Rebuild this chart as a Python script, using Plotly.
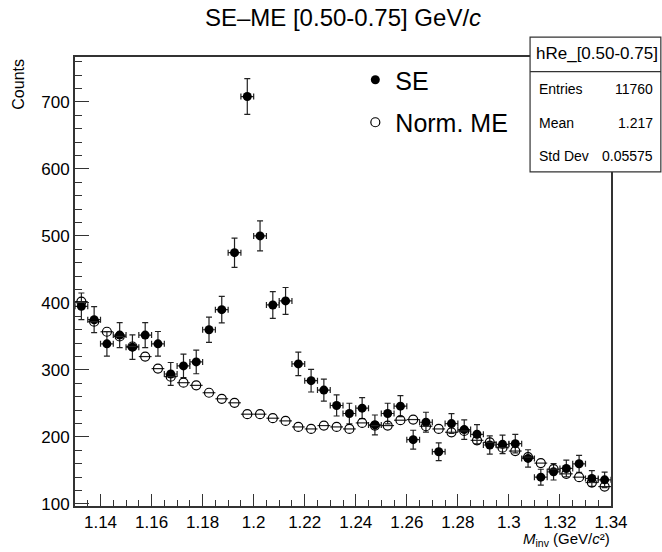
import numpy as np
import plotly.graph_objects as go

# bin centres (bin width 0.005)
x_centers = [1.1325, 1.1375, 1.1425, 1.1475, 1.1525, 1.1575, 1.1625, 1.1675, 1.1725, 1.1775,
             1.1825, 1.1875, 1.1925, 1.1975, 1.2025, 1.2075, 1.2125, 1.2175, 1.2225, 1.2275,
             1.2325, 1.2375, 1.2425, 1.2475, 1.2525, 1.2575, 1.2625, 1.2675, 1.2725, 1.2775,
             1.2825, 1.2875, 1.2925, 1.2975, 1.3025, 1.3075, 1.3125, 1.3175, 1.3225, 1.3275,
             1.3325, 1.3375]
half_width = 0.0025

se_counts = [395, 375, 339, 352, 334, 352, 339, 294, 306, 312,
             360, 390, 475, 708, 500, 397, 403, 309, 284, 270,
             247, 235, 243, 218, 235, 246, 196, 222, 178, 220,
             211, 204, 188, 189, 190, 168, 140, 148, 153, 160,
             138, 136]

me_counts = [402, 372, 357, 350, 335, 320, 302, 290, 281, 277,
             266, 257, 251, 234, 234, 228, 224, 215, 212, 217,
             215, 212, 221, 217, 217, 225, 226, 216, 212, 207,
             209, 195, 192, 184, 179, 170, 161, 152, 145, 140,
             132, 126]

x_tickvals = [1.14, 1.16, 1.18, 1.20, 1.22, 1.24, 1.26, 1.28, 1.30, 1.32, 1.34]
x_ticktext = ["1.14", "1.16", "1.18", "1.2", "1.22", "1.24", "1.26", "1.28", "1.3", "1.32", "1.34"]
y_tickvals = [100, 200, 300, 400, 500, 600, 700]

stats_name = "hRe_[0.50-0.75]"
stats_rows = [("Entries", "11760"), ("Mean", "1.217"), ("Std Dev", "0.05575")]

FONT = "Liberation Sans, Arial, Helvetica, sans-serif"
FRAME = "#333333"

se_err = np.sqrt(np.array(se_counts, dtype=float))

fig = go.Figure()
fig.add_trace(go.Scatter(
    x=x_centers, y=se_counts, mode="markers", name="SE", legendgroup="a",
    marker=dict(symbol="circle", size=9, color="black"),
    error_y=dict(type="data", array=se_err, color="#222222", thickness=1.2, width=3),
    error_x=dict(type="data", array=[half_width] * len(x_centers), color="#222222", thickness=1.2, width=3),
))
fig.add_trace(go.Scatter(
    x=x_centers, y=me_counts, mode="markers", name="Norm. ME", legendgroup="b",
    marker=dict(symbol="circle-open", size=9, color="black", line=dict(width=1.2, color="black")),
    error_x=dict(type="data", array=[half_width] * len(x_centers), color="#222222", thickness=1.2, width=0),
))

# stats box geometry (paper coords)
bx0, bx1, by0, by1, bsep = 0.849, 1.093, 0.744, 1.0444, 0.9673
shapes = [
    dict(type="rect", xref="paper", yref="paper", x0=bx0, x1=bx1, y0=by0, y1=by1,
         line=dict(color=FRAME, width=1.2), fillcolor="white", layer="above"),
    dict(type="line", xref="paper", yref="paper", x0=bx0, x1=bx1, y0=bsep, y1=bsep,
         line=dict(color=FRAME, width=1.2), layer="above"),
]
annotations = [
    dict(text=stats_name, xref="paper", yref="paper", x=0.856, y=1.008, xanchor="left",
         yanchor="middle", showarrow=False, font=dict(size=17, color="black", family=FONT)),
    dict(text="Counts", xref="paper", yref="paper", x=-0.106, y=1.0, xanchor="center",
         yanchor="top", textangle=-90, showarrow=False, font=dict(size=16, color="black", family=FONT)),
    dict(text="<i>M</i><sub>inv</sub> (GeV/<i>c</i>\u00b2)", xref="paper", yref="paper",
         x=1.0, y=-0.098, xanchor="right", yanchor="bottom", showarrow=False, borderpad=0,
         font=dict(size=15, color="black", family=FONT)),
]
row_y = [0.929, 0.853, 0.780]
for (lab, val), yy in zip(stats_rows, row_y):
    annotations.append(dict(text=lab, xref="paper", yref="paper", x=0.862, y=yy, xanchor="left",
                            yanchor="middle", showarrow=False, font=dict(size=14, color="black", family=FONT)))
    annotations.append(dict(text=val, xref="paper", yref="paper", x=1.082, y=yy, xanchor="right",
                            yanchor="middle", showarrow=False, font=dict(size=14, color="black", family=FONT)))

fig.update_layout(
    width=662, height=552,
    margin=dict(l=75, r=51, t=57, b=46),
    paper_bgcolor="white", plot_bgcolor="white",
    font=dict(family=FONT, color="black", size=17),
    title=dict(text="SE\u2013ME [0.50-0.75] GeV/<i>c</i>", x=0.5, xanchor="center", xref="paper",
               y=0.969, yanchor="middle", font=dict(size=24, family=FONT, color="black")),
    showlegend=True,
    legend=dict(x=0.523, y=1.0, xanchor="left", yanchor="top", bgcolor="rgba(0,0,0,0)",
                font=dict(size=25, family=FONT, color="black"), tracegroupgap=7,
                traceorder="grouped", itemsizing="trace"),
    shapes=shapes, annotations=annotations,
    xaxis=dict(range=[1.13, 1.34], showgrid=False, zeroline=False, showline=True, linecolor=FRAME,
               linewidth=2, mirror=True, ticks="inside", ticklen=12, tickcolor=FRAME, tickwidth=1.2,
               tickvals=x_tickvals, ticktext=x_ticktext, tickfont=dict(size=17, family=FONT),
               minor=dict(dtick=0.005, tick0=1.13, ticks="inside", ticklen=6, tickcolor=FRAME,
                          tickwidth=1.2, showgrid=False)),
    yaxis=dict(range=[97, 767], showgrid=False, zeroline=False, showline=True, linecolor=FRAME,
               linewidth=2, mirror=True, ticks="inside", ticklen=14, tickcolor=FRAME, tickwidth=1.2,
               tickvals=y_tickvals, tickfont=dict(size=17, family=FONT),
               minor=dict(dtick=20, tick0=100, ticks="inside", ticklen=7, tickcolor=FRAME,
                          tickwidth=1.2, showgrid=False)),
)

fig.write_html("out.html")
